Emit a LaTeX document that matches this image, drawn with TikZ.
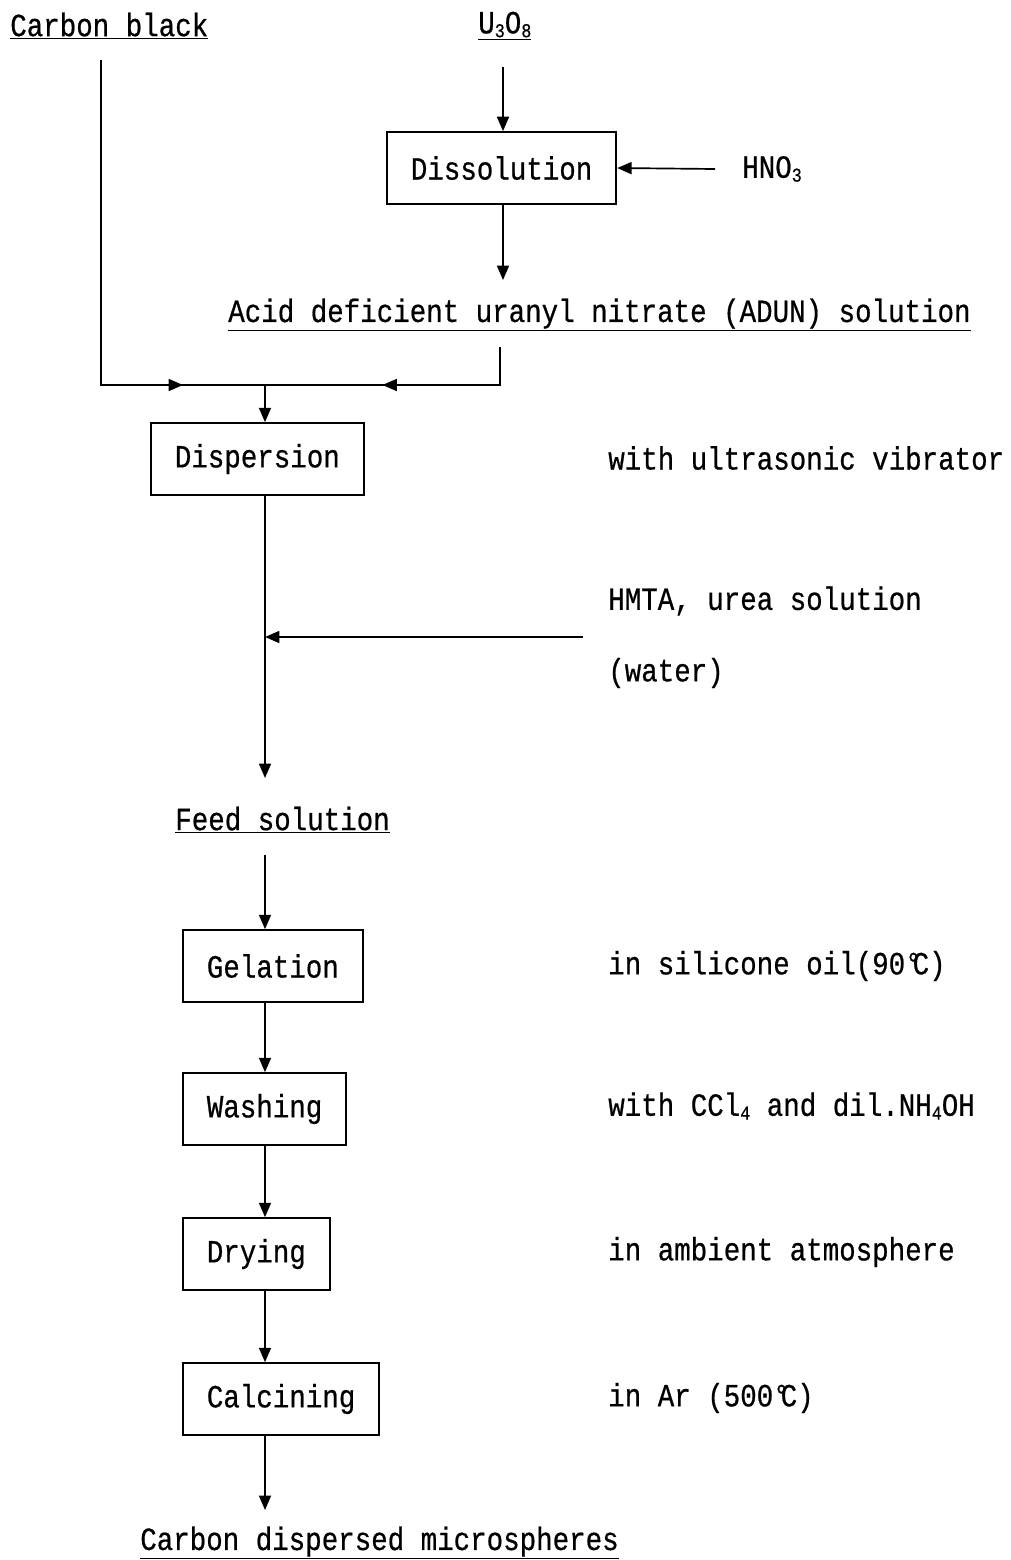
\documentclass[tikz,border=0pt]{standalone}
\usepackage{fontspec}
\setmainfont[FakeStretch=0.85,FakeBold=0.6]{Liberation Mono}
\usetikzlibrary{arrows.meta,calc}
\newcommand\chemsub[1]{\raisebox{-0.12em}{\fontsize{14pt}{14pt}\selectfont #1}}
\newcommand\degc{°\kern-0.28em C}

\tikzset{
	every node/.style={font=\fontsize{23pt}{27pt}\selectfont},
	stepbox/.style={draw, line width=1.2pt, anchor=west, inner xsep=0.6cm, minimum height=1.8cm},
	note/.style={anchor=west, inner sep=0pt},
	arr/.style={line width=1.2pt, -{Triangle[length=3.6mm,width=3mm]}},
	wire/.style={line width=1.2pt},
}

\begin{document}
\begin{tikzpicture}[x=0.025cm, y=-0.025cm]
			%%%%% START %%%%%
			\useasboundingbox (0, 0) rectangle (1011, 1560);
			
			% raw materials
			\node[note] (cb) at (10, 26) {\underline{Carbon black}};
			\node[note] (uo) at (478, 26) {\underline{U\chemsub{3}O\chemsub{8}}};
			\node[note] (hno) at (742, 169) {HNO\chemsub{3}};
			
			\node[stepbox] (diss) at (386, 168) {Dissolution};
			\node[note] (adun) at (228, 315) {\underline{Acid deficient uranyl nitrate (ADUN) solution}};
			
			\coordinate (uotop) at (503, 67);
			\coordinate (hnostart) at (715, 169);
			\coordinate (disstip) at (503, 280);
			\draw[arr] (uotop) -- (uotop |- diss.north);
			\draw[arr] (hnostart) -- (diss.east);
			\draw[arr] (diss.south -| disstip) -- (disstip);
			
			% mixing
			\coordinate (cbtop) at (101, 60);
			\coordinate (joinL) at (101, 385);
			\coordinate (join) at (265, 385);
			\coordinate (adbot) at (500, 347);
			\coordinate (joinR) at (500, 385);
			\draw[wire] (cbtop) -- (joinL) -- (joinR) -- (adbot);
			\draw[arr] (joinL) -- ($(joinL)!0.5!(join)$);
			\draw[arr] (joinR) -- ($(joinR)!0.5!(join)$);
			
			\node[stepbox] (disp) at (150, 459) {Dispersion};
			\node[note] at (608, 458) {with ultrasonic vibrator};
			\draw[arr] (join) -- (join |- disp.north);
			
			% feed
			\coordinate (spine) at (265, 778);
			\draw[arr] (disp.south -| spine) -- (spine);
			\node[note] (hmta) at (608, 601) {HMTA, urea solution};
			\node[note] (water) at (608, 673) {(water)};
			\coordinate (hmtaend) at (583, 637);
			\draw[arr] (hmtaend) -- (hmtaend -| spine);
			
			\node[note] (feed) at (175, 820) {\underline{Feed solution}};
			
			% microsphere steps
			\node[stepbox] (gel) at (182, 966) {Gelation};
			\node[stepbox] (wash) at (182, 1109) {Washing};
			\node[stepbox] (dry) at (182, 1254) {Drying};
			\node[stepbox] (calc) at (182, 1399) {Calcining};
			
			\node[note] at (608, 966) {in silicone oil(90\degc)};
			\node[note] at (608, 1106) {with CCl\chemsub{4} and dil.NH\chemsub{4}OH};
			\node[note] at (608, 1252) {in ambient atmosphere};
			\node[note] at (608, 1398) {in Ar (500\degc)};
			
			\coordinate (feedbot) at (265, 855);
			\coordinate (endtip) at (265, 1510);
			\draw[arr] (feedbot) -- (gel.north -| spine);
			\draw[arr] (gel.south -| spine) -- (wash.north -| spine);
			\draw[arr] (wash.south -| spine) -- (dry.north -| spine);
			\draw[arr] (dry.south -| spine) -- (calc.north -| spine);
			\draw[arr] (calc.south -| spine) -- (endtip);
			
			\node[note] (prod) at (140, 1543) {\underline{Carbon dispersed microspheres}};
			%%%%% END %%%%%
\end{tikzpicture}
\end{document}
